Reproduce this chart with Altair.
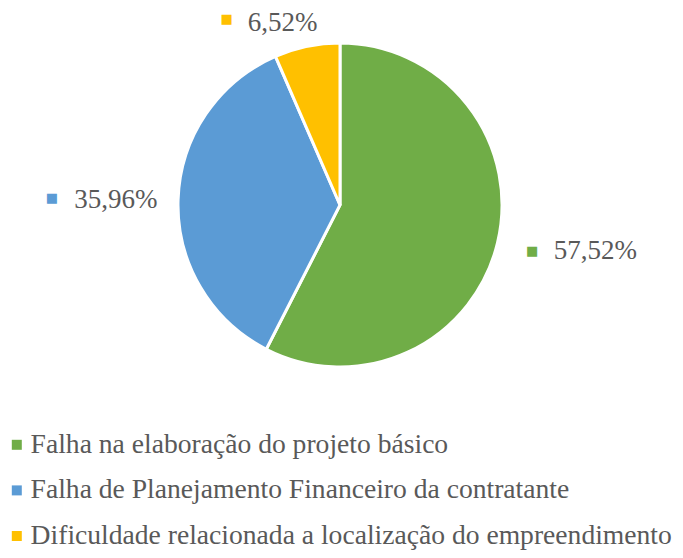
import altair as alt
import pandas as pd

categories = [
    "Falha na elaboração do projeto básico",
    "Falha de Planejamento Financeiro da contratante",
    "Dificuldade relacionada a localização do empreendimento",
]
values = [57.52, 35.96, 6.52]
labels = ["57,52%", "35,96%", "6,52%"]
colors = ["#70AD47", "#5B9BD5", "#FFC000"]

df = pd.DataFrame({
    "idx": list(range(len(categories))),
    "category": categories,
    "value": values,
    "label": labels,
})

FONT = "Liberation Serif, Times New Roman, DejaVu Serif, serif"
TEXT_COLOR = "#595959"
CX, CY = 332, 197
theta_scale = alt.Scale(domain=[0, 100])
color_scale = alt.Scale(domain=categories, range=colors)

pie = alt.Chart(df).mark_arc(outerRadius=162, stroke="white", strokeWidth=3).encode(
    theta=alt.Theta("value:Q", stack=True, scale=theta_scale),
    order=alt.Order("idx:Q"),
    color=alt.Color(
        "category:N",
        scale=color_scale,
        sort=categories,
        legend=alt.Legend(
            title=None,
            orient="none",
            legendX=-5,
            legendY=423,
            direction="vertical",
            symbolType="square",
            symbolSize=100,
            symbolStrokeWidth=0,
            labelFont=FONT,
            labelFontSize=27.6,
            labelColor=TEXT_COLOR,
            labelOffset=0,
            labelLimit=800,
            rowPadding=16.6,
            padding=0,
        ),
    ),
    x=alt.value(CX),
    y=alt.value(CY),
)

# label placement (radius, dx, dy) for text, and (dx, dy) for marker square
place = {
    0: dict(r=260.5, dx=2, dy=-7, sdx=-61, sdy=-15),
    1: dict(r=224.3, dx=0, dy=10, sdx=-64, sdy=0),
    2: dict(r=183.5, dx=-20, dy=6, sdx=-76, sdy=-6),
}

layers = [pie]
for i, p in place.items():
    base = (
        alt.Chart(df)
        .transform_window(cum="sum(value)", sort=[{"field": "idx"}])
        .transform_calculate(mid="datum.cum - datum.value / 2")
        .transform_filter(alt.datum.idx == i)
    )
    txt = base.mark_text(
        radius=p["r"], dx=p["dx"], dy=p["dy"], font=FONT, fontSize=27,
        align="center", baseline="alphabetic", color=TEXT_COLOR,
    ).encode(
        theta=alt.Theta("mid:Q", scale=theta_scale, stack=None),
        text="label:N",
        x=alt.value(CX),
        y=alt.value(CY),
    )
    sq = base.mark_text(
        radius=p["r"], dx=p["sdx"], dy=p["sdy"], font="DejaVu Sans", fontSize=13,
        align="center", baseline="middle", color=colors[i],
    ).encode(
        theta=alt.Theta("mid:Q", scale=theta_scale, stack=None),
        text=alt.value("■"),
        x=alt.value(CX),
        y=alt.value(CY),
    )
    layers += [txt, sq]

chart = alt.layer(*layers).properties(
    width=667, height=542, padding=0, autosize=alt.AutoSizeParams(type="none")
).configure_view(stroke=None)

chart.save("out.html", embed_options={"renderer": "svg", "actions": False})
